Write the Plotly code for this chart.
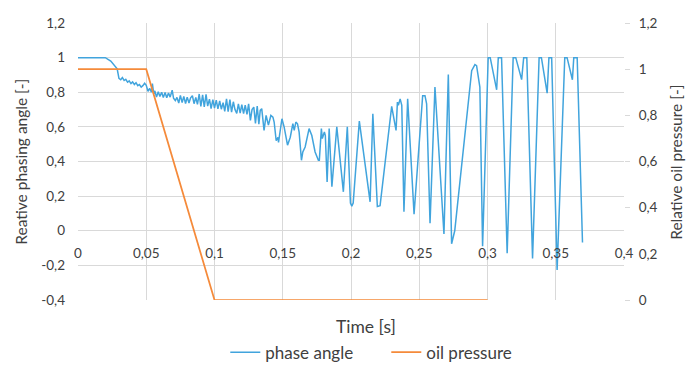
import plotly.graph_objects as go

# ---- data ----
phase_t = [
    0.0, 0.0200, 0.0240, 0.0287, 0.0300, 0.0313, 0.0325, 0.0338, 0.0350, 0.0363,
    0.0375, 0.0388, 0.0400, 0.0413, 0.0425, 0.0438, 0.0450, 0.0463, 0.0475, 0.0488,
    0.0500, 0.0513, 0.0525, 0.0538, 0.0545, 0.0555, 0.0563, 0.0575, 0.0588, 0.0600,
    0.0613, 0.0625, 0.0638, 0.0650, 0.0663, 0.0675, 0.0690, 0.0700, 0.0713, 0.0725,
    0.0738, 0.0750, 0.0763, 0.0775, 0.0788, 0.0800, 0.0813, 0.0825, 0.0838, 0.0850,
    0.0863, 0.0875, 0.0888, 0.0900, 0.0913, 0.0925, 0.0938, 0.0950, 0.0963, 0.0975,
    0.0988, 0.1000, 0.1013, 0.1025, 0.1038, 0.1050, 0.1063, 0.1075, 0.1088, 0.1100,
    0.1113, 0.1125, 0.1138, 0.1150, 0.1163, 0.1175, 0.1188, 0.1200, 0.1213, 0.1225,
    0.1238, 0.1250, 0.1263, 0.1275, 0.1288, 0.1300, 0.1313, 0.1325, 0.1335, 0.1346,
    0.1363, 0.1378, 0.1395, 0.1413, 0.1428, 0.1437, 0.1452, 0.1465, 0.1469, 0.1494,
    0.1510, 0.1535, 0.1555, 0.1574, 0.1584, 0.1596, 0.1608, 0.1620, 0.1637, 0.1647,
    0.1664, 0.1693, 0.1713, 0.1737, 0.1761, 0.1768, 0.1783, 0.1790, 0.1805, 0.1812,
    0.1825, 0.1840, 0.1860, 0.1896, 0.1944, 0.1973, 0.1996, 0.2006, 0.2016, 0.2061,
    0.2140, 0.2160, 0.2193, 0.2213, 0.2298, 0.2330, 0.2340, 0.2347, 0.2360, 0.2372,
    0.2388, 0.2415, 0.2462, 0.2518, 0.2525, 0.2542, 0.2554, 0.2579, 0.2615, 0.2681,
    0.2713, 0.2737, 0.2760, 0.2884, 0.2908, 0.2920, 0.2944, 0.2964, 0.3005, 0.3020,
    0.3067, 0.3079, 0.3103, 0.3144, 0.3188, 0.3207, 0.3250, 0.3265, 0.3288, 0.3330,
    0.3378, 0.3395, 0.3437, 0.3450, 0.3470, 0.3510, 0.3566, 0.3583, 0.3622, 0.3632,
    0.3657, 0.3696,
]
phase_v = [
    1.000, 1.000, 0.980, 0.935, 0.880, 0.872, 0.885, 0.868, 0.875, 0.858,
    0.866, 0.850, 0.860, 0.845, 0.855, 0.838, 0.845, 0.830, 0.838, 0.852,
    0.840, 0.805, 0.822, 0.800, 0.850, 0.790, 0.808, 0.772, 0.803, 0.775,
    0.800, 0.770, 0.798, 0.768, 0.796, 0.772, 0.812, 0.765, 0.752, 0.770,
    0.738, 0.782, 0.740, 0.776, 0.735, 0.772, 0.738, 0.768, 0.780, 0.734,
    0.770, 0.730, 0.790, 0.718, 0.785, 0.715, 0.788, 0.720, 0.760, 0.705,
    0.758, 0.708, 0.755, 0.704, 0.750, 0.702, 0.740, 0.690, 0.762, 0.688,
    0.758, 0.685, 0.745, 0.700, 0.678, 0.733, 0.680, 0.728, 0.676, 0.725,
    0.672, 0.733, 0.637, 0.700, 0.714, 0.620, 0.720, 0.615, 0.695, 0.705,
    0.580, 0.666, 0.610, 0.666, 0.656, 0.628, 0.520, 0.540, 0.510, 0.647,
    0.600, 0.494, 0.540, 0.618, 0.580, 0.628, 0.618, 0.570, 0.407, 0.455,
    0.484, 0.590, 0.550, 0.455, 0.407, 0.407, 0.590, 0.532, 0.570, 0.550,
    0.282, 0.590, 0.254, 0.600, 0.225, 0.600, 0.160, 0.142, 0.160, 0.633,
    0.167, 0.676, 0.140, 0.145, 0.718, 0.580, 0.743, 0.724, 0.762, 0.724,
    0.110, 0.762, 0.096, 0.762, 0.780, 0.780, 0.733, 0.043, 0.830, -0.019,
    0.902, -0.075, 0.000, 0.925, 0.960, 0.954, 0.830, -0.090, 1.000, 1.000,
    0.814, 1.000, 1.000, -0.130, 1.000, 1.000, 0.873, 1.000, 1.000, -0.160,
    1.000, 1.000, 0.795, 1.000, 1.000, -0.226, 1.000, 1.000, 0.872, 1.000,
    1.000, -0.068,
]

oil_t = [0.0, 0.05, 0.10, 0.30]
oil_v = [1.0, 1.0, 0.0, 0.0]

x_ticks = [0, 0.05, 0.1, 0.15, 0.2, 0.25, 0.3, 0.35, 0.4]
x_labels = ["0", "0,05", "0,1", "0,15", "0,2", "0,25", "0,3", "0,35", "0,4"]
y_ticks = [-0.4, -0.2, 0, 0.2, 0.4, 0.6, 0.8, 1.0, 1.2]
y_labels = ["-0,4", "-0,2", "0", "0,2", "0,4", "0,6", "0,8", "1", "1,2"]
y2_ticks = [0, 0.2, 0.4, 0.6, 0.8, 1.0, 1.2]
y2_labels = ["0", "0,2", "0,4", "0,6", "0,8", "1", "1,2"]

BLUE = "#41A4DD"
ORANGE = "#F58A3A"
GRID = "#D9D9D9"
TXT = "#404040"
FONT = "Lato"
TICK_SIZE = 13.5

fig = go.Figure()
fig.add_trace(go.Scatter(x=phase_t, y=phase_v, mode="lines", name="phase angle",
                         line=dict(color=BLUE, width=1.5), yaxis="y"))
fig.add_trace(go.Scatter(x=oil_t, y=oil_v, mode="lines", name="oil pressure",
                         line=dict(color=ORANGE, width=1.75), yaxis="y2"))

fig.update_layout(
    width=686, height=365, autosize=False,
    margin=dict(l=77.5, r=61.7, t=22.7, b=65, autoexpand=False),
    paper_bgcolor="white", plot_bgcolor="white",
    font=dict(family=FONT, size=TICK_SIZE, color=TXT),
    showlegend=True,
    legend=dict(orientation="h", x=(225 - 77.5) / 546.8, xanchor="left", y=-0.19,
                yanchor="middle", font=dict(size=17, color=TXT), itemwidth=30,
                tracegroupgap=0, entrywidth=116, entrywidthmode="pixels"),
    xaxis=dict(range=[0, 0.4], anchor="free", position=0.25, automargin=False,
               tickvals=x_ticks, ticktext=x_labels, showgrid=True, gridcolor=GRID,
               gridwidth=1, zeroline=False, showline=False, ticks="",
               ticklabelstandoff=13, tickfont=dict(size=TICK_SIZE, color=TXT)),
    yaxis=dict(range=[-0.4, 1.2], tickvals=y_ticks, ticktext=y_labels, automargin=False,
               showgrid=True, gridcolor=GRID, gridwidth=1, zeroline=False,
               showline=False, ticks="", ticklabelstandoff=12,
               tickfont=dict(size=TICK_SIZE, color=TXT)),
    yaxis2=dict(range=[0, 1.2], overlaying="y", side="right", anchor="x", automargin=False,
                tickvals=y2_ticks, ticktext=y2_labels, showgrid=False,
                zeroline=False, showline=False, ticks="outside", ticklen=5,
                tickcolor=GRID, ticklabelstandoff=6,
                tickfont=dict(size=TICK_SIZE, color=TXT)),
)

fig.add_annotation(text="Time [s]", xref="paper", yref="paper", x=0.5276, y=-0.096,
                   xanchor="center", yanchor="middle", showarrow=False,
                   font=dict(size=17.5, color=TXT))
fig.add_annotation(text="Reative phasing angle [-]", xref="paper", yref="paper",
                   x=-0.1033, y=0.4977, xanchor="center", yanchor="middle",
                   textangle=-90, showarrow=False, font=dict(size=15.5, color=TXT))
fig.add_annotation(text="Relative oil pressure [-]", xref="paper", yref="paper",
                   x=1.0964, y=0.4977, xanchor="center", yanchor="middle",
                   textangle=-90, showarrow=False, font=dict(size=15.5, color=TXT))

fig.write_html("out.html", config={"displayModeBar": False},
               post_script="document.body.style.margin='0';")
